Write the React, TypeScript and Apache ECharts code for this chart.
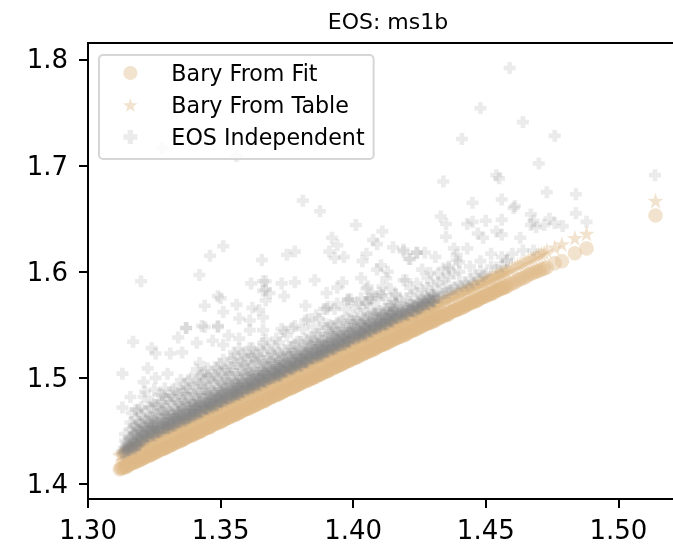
import React, { useEffect, useRef } from "react";
import * as echarts from "echarts";

const titleText = "EOS: ms1b";
const seriesNames = ["Bary From Fit", "Bary From Table", "EOS Independent"];
const xTicks = [1.3, 1.35, 1.4, 1.45, 1.5];
const yTicks = [1.4, 1.5, 1.6, 1.7, 1.8];

// Each row: x, y from the fit, y from the table
const baryRows = [
  [1.312,1.414,1.427],[1.313,1.415,1.429],[1.314,1.416,1.43],[1.315,1.418,1.432],[1.316,1.419,1.433],[1.317,1.42,1.434],[1.318,1.421,1.435],[1.319,1.422,1.436],[1.32,1.423,1.437],[1.321,1.425,1.439],
  [1.322,1.426,1.44],[1.323,1.427,1.441],[1.324,1.428,1.442],[1.325,1.429,1.443],[1.326,1.431,1.445],[1.327,1.432,1.446],[1.328,1.433,1.447],[1.329,1.434,1.448],[1.33,1.435,1.449],[1.331,1.436,1.45],
  [1.332,1.438,1.452],[1.333,1.439,1.453],[1.334,1.44,1.454],[1.335,1.441,1.455],[1.336,1.442,1.456],[1.337,1.444,1.458],[1.338,1.445,1.459],[1.339,1.446,1.46],[1.34,1.447,1.461],[1.341,1.448,1.462],
  [1.342,1.449,1.463],[1.343,1.451,1.465],[1.344,1.452,1.466],[1.345,1.453,1.467],[1.346,1.454,1.468],[1.347,1.456,1.47],[1.348,1.457,1.471],[1.349,1.458,1.472],[1.35,1.459,1.473],[1.351,1.46,1.474],
  [1.352,1.462,1.476],[1.353,1.463,1.477],[1.354,1.464,1.478],[1.355,1.465,1.479],[1.356,1.466,1.48],[1.357,1.467,1.481],[1.358,1.469,1.483],[1.359,1.47,1.484],[1.36,1.471,1.485],[1.361,1.472,1.486],
  [1.362,1.473,1.487],[1.363,1.474,1.488],[1.364,1.476,1.49],[1.365,1.477,1.491],[1.366,1.478,1.492],[1.367,1.479,1.493],[1.368,1.481,1.495],[1.369,1.482,1.496],[1.37,1.483,1.497],[1.371,1.484,1.498],
  [1.372,1.485,1.499],[1.373,1.486,1.5],[1.374,1.488,1.502],[1.375,1.489,1.503],[1.376,1.49,1.504],[1.377,1.491,1.505],[1.378,1.492,1.506],[1.379,1.493,1.507],[1.38,1.495,1.509],[1.381,1.496,1.51],
  [1.382,1.497,1.511],[1.383,1.498,1.512],[1.384,1.499,1.513],[1.385,1.5,1.514],[1.386,1.501,1.515],[1.387,1.503,1.517],[1.388,1.504,1.518],[1.389,1.505,1.519],[1.39,1.506,1.52],[1.391,1.507,1.521],
  [1.392,1.509,1.523],[1.393,1.51,1.524],[1.394,1.511,1.525],[1.395,1.512,1.526],[1.396,1.513,1.527],[1.397,1.515,1.529],[1.398,1.516,1.53],[1.399,1.517,1.531],[1.4,1.518,1.532],[1.401,1.519,1.533],
  [1.402,1.52,1.534],[1.403,1.522,1.536],[1.404,1.523,1.537],[1.405,1.524,1.538],[1.406,1.525,1.539],[1.407,1.526,1.54],[1.408,1.527,1.541],[1.409,1.529,1.543],[1.41,1.53,1.544],[1.411,1.531,1.545],
  [1.412,1.532,1.546],[1.413,1.533,1.547],[1.414,1.535,1.549],[1.415,1.536,1.55],[1.416,1.537,1.551],[1.417,1.538,1.552],[1.418,1.539,1.553],[1.419,1.54,1.554],[1.42,1.541,1.555],[1.421,1.543,1.557],
  [1.422,1.544,1.558],[1.423,1.545,1.559],[1.424,1.546,1.56],[1.425,1.548,1.562],[1.426,1.549,1.563],[1.427,1.55,1.564],[1.428,1.551,1.565],[1.429,1.552,1.566],[1.43,1.553,1.567],[1.431,1.554,1.568],
  [1.432,1.556,1.57],[1.433,1.557,1.571],[1.434,1.558,1.572],[1.435,1.559,1.573],[1.436,1.56,1.574],[1.437,1.562,1.576],[1.438,1.563,1.577],[1.439,1.564,1.578],[1.44,1.565,1.579],[1.441,1.566,1.58],
  [1.442,1.567,1.581],[1.443,1.569,1.583],[1.444,1.57,1.584],[1.445,1.571,1.585],[1.446,1.572,1.586],[1.447,1.573,1.587],[1.448,1.575,1.589],[1.449,1.576,1.59],[1.45,1.577,1.591],[1.451,1.578,1.592],
  [1.452,1.579,1.593],[1.453,1.58,1.594],[1.454,1.582,1.596],[1.455,1.583,1.597],[1.456,1.584,1.598],[1.457,1.585,1.599],[1.458,1.586,1.6],[1.459,1.588,1.602],[1.461,1.59,1.604],[1.463,1.593,1.607],
  [1.465,1.595,1.609],[1.467,1.598,1.612],[1.469,1.6,1.615],[1.471,1.602,1.617],[1.473,1.604,1.62],[1.476,1.608,1.623],[1.4787,1.61,1.626],[1.4836,1.6175,1.632],[1.488,1.622,1.636],[1.514,1.653,1.667],
];

// Second pass along the same band, read between the rows above
const baryFillRows = [
  [1.3125,1.415,1.428],[1.3135,1.416,1.43],[1.3145,1.416,1.431],[1.3155,1.418,1.432],[1.3165,1.42,1.434],[1.3175,1.42,1.434],[1.3185,1.422,1.436],[1.3195,1.423,1.437],[1.3205,1.424,1.438],[1.3215,1.425,1.439],
  [1.3225,1.427,1.441],[1.3235,1.427,1.442],[1.3245,1.429,1.443],[1.3255,1.43,1.444],[1.3265,1.431,1.445],[1.3275,1.433,1.447],[1.3285,1.433,1.448],[1.3295,1.435,1.449],[1.3305,1.436,1.45],[1.3315,1.437,1.451],
  [1.3325,1.438,1.452],[1.3335,1.44,1.454],[1.3345,1.44,1.455],[1.3355,1.442,1.456],[1.3365,1.443,1.457],[1.3375,1.444,1.458],[1.3385,1.446,1.46],[1.3395,1.446,1.461],[1.3405,1.448,1.462],[1.3415,1.449,1.463],
  [1.3425,1.45,1.464],[1.3435,1.451,1.465],[1.3445,1.453,1.467],[1.3455,1.453,1.468],[1.3465,1.455,1.469],[1.3475,1.456,1.47],[1.3485,1.457,1.471],[1.3495,1.459,1.473],[1.3505,1.459,1.474],[1.3515,1.461,1.475],
  [1.3525,1.462,1.476],[1.3535,1.463,1.477],[1.3545,1.465,1.479],[1.3555,1.465,1.48],[1.3565,1.467,1.481],[1.3575,1.468,1.482],[1.3585,1.469,1.483],[1.3595,1.471,1.485],[1.3605,1.471,1.486],[1.3615,1.473,1.487],
  [1.3625,1.474,1.488],[1.3635,1.475,1.489],[1.3645,1.476,1.49],[1.3655,1.478,1.492],[1.3665,1.478,1.493],[1.3675,1.48,1.494],[1.3685,1.481,1.495],[1.3695,1.482,1.496],[1.3705,1.484,1.498],[1.3715,1.484,1.499],
  [1.3725,1.486,1.5],[1.3735,1.487,1.501],[1.3745,1.488,1.502],[1.3755,1.49,1.504],[1.3765,1.49,1.505],[1.3775,1.492,1.506],[1.3785,1.493,1.507],[1.3795,1.494,1.508],[1.3805,1.495,1.51],[1.3815,1.497,1.511],
  [1.3825,1.497,1.512],[1.3835,1.499,1.513],[1.3845,1.5,1.514],[1.3855,1.501,1.515],[1.3865,1.503,1.517],[1.3875,1.503,1.518],[1.3885,1.505,1.519],[1.3895,1.506,1.52],[1.3905,1.507,1.521],[1.3915,1.509,1.523],
  [1.3925,1.509,1.524],[1.3935,1.511,1.525],[1.3945,1.512,1.526],[1.3955,1.513,1.527],[1.3965,1.514,1.528],[1.3975,1.516,1.53],[1.3985,1.516,1.531],[1.3995,1.518,1.532],[1.4005,1.519,1.533],[1.4015,1.52,1.534],
  [1.4025,1.522,1.536],[1.4035,1.522,1.537],[1.4045,1.524,1.538],[1.4055,1.525,1.539],[1.4065,1.526,1.54],[1.4075,1.528,1.542],[1.4085,1.528,1.543],[1.4095,1.53,1.544],[1.4105,1.531,1.545],[1.4115,1.532,1.546],
  [1.4125,1.533,1.547],[1.4135,1.535,1.549],[1.4145,1.535,1.55],[1.4155,1.537,1.551],[1.4165,1.538,1.552],[1.4175,1.539,1.553],[1.4185,1.541,1.555],[1.4195,1.541,1.556],[1.4205,1.543,1.557],[1.4215,1.544,1.558],
  [1.4225,1.545,1.559],[1.4235,1.546,1.56],[1.4245,1.548,1.562],[1.4255,1.548,1.563],[1.4265,1.55,1.564],[1.4275,1.551,1.565],[1.4285,1.552,1.566],[1.4295,1.554,1.568],[1.4305,1.554,1.569],[1.4315,1.556,1.57],
  [1.4325,1.557,1.571],[1.4335,1.558,1.572],[1.4345,1.56,1.574],[1.4355,1.56,1.575],[1.4365,1.562,1.576],[1.4375,1.563,1.577],[1.4385,1.564,1.578],[1.4395,1.565,1.58],[1.4405,1.567,1.581],[1.4415,1.567,1.582],
  [1.4425,1.569,1.583],[1.4435,1.57,1.584],[1.4445,1.571,1.585],[1.4455,1.573,1.587],[1.4465,1.573,1.588],[1.4475,1.575,1.589],[1.4485,1.576,1.59],[1.4495,1.577,1.591],[1.4505,1.579,1.593],[1.4515,1.579,1.594],
  [1.4525,1.581,1.595],[1.4535,1.582,1.596],[1.4545,1.583,1.597],[1.4555,1.585,1.599],[1.4565,1.585,1.6],[1.4575,1.587,1.601],[1.46,1.589,1.603],[1.462,1.592,1.606],[1.464,1.594,1.608],[1.466,1.597,1.611],
  [1.468,1.599,1.613],[1.47,1.601,1.616],[1.472,1.603,1.618],
];

// Markers read inside the band, where fit and table overlap
const baryMiddleRows = [
  [1.314,1.42,1.426],[1.316,1.423,1.429],[1.318,1.425,1.431],[1.32,1.428,1.433],[1.322,1.43,1.436],[1.324,1.432,1.439],[1.326,1.434,1.441],[1.328,1.437,1.443],[1.33,1.439,1.446],[1.332,1.442,1.447],
  [1.334,1.444,1.45],[1.336,1.446,1.453],[1.338,1.449,1.455],[1.34,1.451,1.457],[1.342,1.453,1.46],[1.344,1.456,1.462],[1.346,1.458,1.464],[1.348,1.46,1.467],[1.35,1.463,1.469],[1.352,1.465,1.471],
  [1.354,1.468,1.474],[1.356,1.47,1.476],[1.358,1.472,1.478],[1.36,1.475,1.481],[1.362,1.477,1.483],[1.364,1.479,1.486],[1.366,1.482,1.488],[1.368,1.484,1.49],[1.37,1.487,1.492],[1.372,1.489,1.495],
  [1.374,1.491,1.497],[1.376,1.494,1.5],[1.378,1.496,1.502],[1.38,1.498,1.504],[1.382,1.501,1.507],[1.384,1.503,1.509],[1.386,1.505,1.511],[1.388,1.508,1.514],[1.39,1.51,1.516],[1.392,1.512,1.518],
  [1.394,1.515,1.521],[1.396,1.517,1.523],[1.398,1.519,1.526],[1.4,1.522,1.528],[1.402,1.524,1.53],[1.404,1.527,1.533],[1.406,1.529,1.535],[1.408,1.531,1.537],[1.41,1.534,1.54],[1.412,1.536,1.542],
  [1.414,1.538,1.544],[1.416,1.541,1.547],[1.418,1.543,1.549],[1.42,1.545,1.551],[1.422,1.548,1.554],[1.424,1.55,1.556],[1.426,1.552,1.558],[1.428,1.555,1.561],[1.43,1.557,1.563],[1.432,1.56,1.566],
];

// Each row: x, then the y of every marker read in that column
const indepRidgeRows = [
  [1.313,1.428,1.431],[1.314,1.43,1.434],[1.315,1.431,1.436,1.433],[1.316,1.432,1.438,1.435],[1.317,1.434,1.437,1.442],[1.318,1.435,1.44,1.437],[1.319,1.436,1.441,1.446],[1.32,1.44,1.444],
  [1.321,1.443,1.448],[1.322,1.445,1.442],[1.323,1.444,1.45],[1.324,1.447,1.452],[1.325,1.449,1.446],[1.326,1.448,1.454],[1.327,1.451,1.449],[1.328,1.45,1.456],
  [1.329,1.453,1.458],[1.33,1.454,1.452,1.46],[1.331,1.456,1.453],[1.332,1.455,1.461],[1.333,1.458,1.456,1.463],[1.334,1.457,1.462],[1.335,1.46,1.465],[1.336,1.461,1.459,1.467],
  [1.337,1.463,1.46],[1.338,1.462,1.468],[1.339,1.465,1.47,1.463],[1.34,1.464,1.469],[1.341,1.467,1.472],[1.342,1.469,1.466,1.474],[1.343,1.468,1.473],[1.344,1.471,1.476],
  [1.345,1.47,1.475,1.472],[1.346,1.473,1.478],[1.347,1.475,1.472,1.481],[1.348,1.474,1.479],[1.349,1.477,1.483],[1.35,1.476,1.481,1.478],[1.351,1.479,1.485],[1.352,1.481,1.478,1.487],
  [1.353,1.48,1.484],[1.354,1.483,1.489],[1.355,1.482,1.487,1.485],[1.356,1.485,1.491],[1.357,1.487,1.484,1.493],[1.358,1.486,1.49],[1.359,1.489,1.495],[1.36,1.488,1.493,1.491],
  [1.361,1.491,1.497],[1.362,1.493,1.49,1.499],[1.363,1.492,1.496],[1.364,1.495,1.501],[1.365,1.494,1.499,1.497],[1.366,1.497,1.503],[1.367,1.499,1.496,1.505],[1.368,1.498,1.502],
  [1.369,1.501,1.507],[1.37,1.5,1.505,1.503],[1.371,1.503,1.509],[1.372,1.505,1.502,1.511],[1.373,1.504,1.508],[1.374,1.507,1.513],[1.375,1.506,1.511,1.509],[1.376,1.509,1.515],
  [1.377,1.511,1.508,1.517],[1.378,1.51,1.514],[1.379,1.513,1.519],[1.38,1.512,1.517,1.515],[1.381,1.515,1.521],[1.382,1.517,1.514,1.523],[1.383,1.516,1.52],[1.384,1.519,1.525],
  [1.385,1.518,1.523,1.521],[1.386,1.521,1.527],[1.387,1.523,1.52,1.529],[1.388,1.522,1.526],[1.389,1.525,1.531],[1.39,1.524,1.529,1.527],[1.391,1.527,1.533],[1.392,1.529,1.526,1.535],
  [1.393,1.528,1.532],[1.394,1.531,1.537],[1.395,1.53,1.535],[1.396,1.533,1.539],[1.397,1.535,1.532],[1.398,1.534,1.538],[1.399,1.537,1.543],[1.4,1.536,1.541],
  [1.401,1.539,1.545],[1.402,1.541,1.538],[1.403,1.54,1.544],[1.404,1.543,1.549],[1.405,1.542,1.547],[1.406,1.545,1.551],[1.407,1.547,1.544],[1.408,1.546,1.55],
  [1.409,1.549,1.555],[1.41,1.548,1.553],[1.411,1.551,1.557],[1.412,1.553,1.55],[1.413,1.552,1.556],[1.414,1.555,1.561],[1.415,1.554,1.559],[1.416,1.557,1.563],
  [1.417,1.559],[1.418,1.558,1.562],[1.419,1.561,1.567],[1.42,1.56],[1.421,1.563,1.569],[1.422,1.565],[1.423,1.564,1.568],[1.424,1.567],
  [1.425,1.566,1.572],[1.426,1.569],[1.427,1.571,1.577],[1.428,1.57],[1.429,1.573],[1.43,1.572,1.578],[1.431,1.575],[1.432,1.577,1.582],
  [1.433,1.576],[1.434,1.579],[1.435,1.581,1.586],[1.436,1.58],[1.437,1.583],[1.438,1.585],[1.439,1.584],[1.44,1.589],
  [1.441,1.586],[1.442,1.59],[1.443,1.587],[1.444,1.593],[1.445,1.589],[1.446,1.597],[1.447,1.593],[1.448,1.6],[1.449,1.596],[1.45,1.598],[1.452,1.605],[1.454,1.604],[1.456,1.605],[1.458,1.61],
];

// Second pass over the dense ridge, read between the columns above
const indepRidgeFillRows = [
  [1.3135,1.43,1.434],[1.3145,1.432,1.436,1.439],[1.3155,1.432,1.435,1.442],[1.3165,1.435,1.439,1.444],[1.3175,1.433,1.438,1.443,1.447],[1.3185,1.437,1.438,1.443,1.451],[1.3195,1.437,1.442,1.449,1.456],[1.3205,1.442,1.446,1.449],
  [1.3215,1.445,1.449,1.455],[1.3225,1.445,1.452,1.454],[1.3235,1.448,1.453,1.459],[1.3245,1.446,1.453,1.455],[1.3255,1.45,1.455,1.461],[1.3265,1.449,1.454,1.458],[1.3275,1.453,1.461],[1.3285,1.453,1.46,1.467],
  [1.3295,1.453,1.457,1.46],[1.3305,1.456,1.46,1.466],[1.3315,1.456,1.459,1.465],[1.3325,1.455,1.462,1.464],[1.3335,1.459,1.464,1.47],[1.3345,1.459,1.464,1.468],[1.3355,1.463,1.471],[1.3365,1.462,1.469,1.476],
  [1.3375,1.462,1.466,1.469],[1.3385,1.465,1.469,1.475],[1.3395,1.466,1.469,1.475],[1.3405,1.465,1.472,1.474],[1.3415,1.469,1.474,1.48],[1.3425,1.468,1.473,1.477],[1.3435,1.472,1.48],[1.3445,1.471,1.478,1.485],
  [1.3455,1.472,1.476,1.479],[1.3465,1.475,1.479,1.485],[1.3475,1.475,1.478,1.484],[1.3485,1.474,1.481,1.483],[1.3495,1.478,1.483,1.489],[1.3505,1.478,1.483,1.487],[1.3515,1.482,1.49],[1.3525,1.481,1.488,1.495],
  [1.3535,1.481,1.485,1.488],[1.3545,1.484,1.488,1.494],[1.3555,1.484,1.487,1.493],[1.3565,1.484,1.491,1.493],[1.3575,1.488,1.493,1.499],[1.3585,1.487,1.492,1.496],[1.3595,1.491,1.499],[1.3605,1.49,1.497,1.504],
  [1.3615,1.491,1.495,1.498],[1.3625,1.494,1.498,1.504],[1.3635,1.494,1.497,1.503],[1.3645,1.493,1.5,1.502],[1.3655,1.497,1.502,1.508],[1.3665,1.496,1.501,1.505],[1.3675,1.501,1.509],[1.3685,1.5,1.507,1.514],
  [1.3695,1.5,1.504,1.507],[1.3705,1.503,1.507,1.513],[1.3715,1.502,1.505,1.511],[1.3725,1.502,1.509,1.511],[1.3735,1.507,1.512,1.518],[1.3745,1.506,1.511,1.515],[1.3755,1.51,1.518],[1.3765,1.509,1.516,1.523],
  [1.3775,1.509,1.513,1.516],[1.3785,1.513,1.517,1.523],[1.3795,1.512,1.515,1.521],[1.3805,1.511,1.518,1.52],[1.3815,1.515,1.52,1.526],[1.3825,1.515,1.52,1.524],[1.3835,1.52,1.528],[1.3845,1.519,1.526,1.533],
  [1.3855,1.519,1.523,1.526],[1.3865,1.522,1.526,1.532],[1.3875,1.521,1.524,1.53],[1.3885,1.521,1.528,1.53],[1.3895,1.525,1.53,1.536],[1.3905,1.525,1.53,1.534],[1.3915,1.529,1.537],[1.3925,1.528,1.535,1.542],
  [1.3935,1.528,1.532,1.535],[1.3945,1.532,1.536,1.542],[1.3955,1.531,1.534,1.54],[1.3965,1.531,1.538,1.54],[1.3975,1.535,1.54,1.546],[1.3985,1.534,1.539,1.543],[1.3995,1.538,1.546],[1.4005,1.539,1.546,1.553],
  [1.4015,1.538,1.542,1.545],[1.4025,1.541,1.545,1.551],[1.4035,1.541,1.544,1.55],[1.4045,1.54,1.547,1.549],[1.4055,1.545,1.55,1.556],[1.4065,1.544,1.549,1.553],[1.4075,1.548,1.556],[1.4085,1.547,1.554,1.561],
  [1.4095,1.547,1.551,1.554],[1.4105,1.55,1.554,1.56],[1.4115,1.551,1.554,1.56],[1.4125,1.55,1.557,1.559],[1.4135,1.554,1.559,1.565],[1.4145,1.553,1.558,1.562],[1.4155,1.557,1.565],[1.4165,1.557,1.564,1.571],
  [1.4175,1.557,1.561],[1.4185,1.56,1.564],[1.4195,1.56,1.563],[1.4205,1.559,1.566],[1.4215,1.564,1.569],[1.4225,1.563,1.568],[1.4235,1.562,1.567],[1.4245,1.565,1.572],
  [1.4255,1.566,1.57],[1.4265,1.569,1.573],[1.4275,1.57,1.573],[1.4285,1.569,1.576],[1.4295,1.573,1.578],[1.4305,1.572,1.577],
];

// Darker clumps on the lower edge of the ridge
const indepClumpRows = [
  [1.3203,1.442,1.446],[1.3223,1.445,1.449],[1.3243,1.448,1.45,1.453],[1.3263,1.45,1.454],[1.3283,1.452,1.456,1.457],[1.3303,1.454,1.457],[1.3323,1.458,1.462],[1.3343,1.459,1.462,1.464],
  [1.3363,1.461,1.466],[1.3383,1.464,1.468],[1.3403,1.466,1.468,1.471],[1.3423,1.468,1.472],[1.3443,1.471,1.474,1.476],[1.3463,1.473,1.476],[1.3483,1.475,1.48],[1.3503,1.478,1.48,1.483],
  [1.3523,1.48,1.485],[1.3543,1.482,1.486],[1.3563,1.485,1.487,1.49],[1.3583,1.487,1.491],[1.3603,1.49,1.493,1.495],[1.3623,1.492,1.495],[1.3643,1.494,1.499],[1.3663,1.497,1.499,1.502],
  [1.3683,1.499,1.504],[1.3703,1.501,1.505],[1.3723,1.504,1.506,1.509],[1.3743,1.506,1.51],[1.3763,1.508,1.511,1.513],[1.3783,1.511,1.514],[1.3803,1.513,1.518],[1.3823,1.516,1.518,1.521],
  [1.3843,1.518,1.523],[1.3863,1.52,1.524],[1.3883,1.523,1.525,1.528],[1.3903,1.525,1.529],[1.3923,1.527,1.53,1.532],[1.3943,1.53,1.533],[1.3963,1.532,1.537],[1.3983,1.534,1.536,1.539],
  [1.4003,1.537,1.542],[1.4023,1.539,1.543],[1.4043,1.541,1.543,1.546],[1.4063,1.544,1.548],[1.4083,1.546,1.549,1.551],[1.4103,1.549,1.552],[1.4123,1.551,1.556],[1.4143,1.553,1.555,1.558],
  [1.4163,1.556,1.561],[1.4183,1.558,1.562],[1.4203,1.56,1.565],[1.4223,1.563,1.567],[1.4243,1.565,1.57],[1.4263,1.567,1.572],[1.4283,1.57,1.575],[1.4303,1.572,1.577],
];

const indepCloudRows = [
  [1.314,1.441,1.447],[1.316,1.444,1.452,1.458],[1.318,1.447,1.455,1.462],[1.32,1.45,1.457,1.465,1.472],[1.322,1.452,1.46,1.468],[1.324,1.456,1.463,1.472,1.478],[1.326,1.458,1.466,1.474],[1.328,1.461,1.469,1.477,1.484],
  [1.33,1.464,1.471,1.48],[1.332,1.466,1.474,1.483,1.489],[1.334,1.468,1.476,1.485],[1.336,1.471,1.479,1.487,1.494],[1.338,1.473,1.481,1.49,1.498],[1.34,1.475,1.484,1.492],[1.342,1.478,1.486,1.495,1.502],[1.344,1.48,1.489,1.498,1.506],
  [1.346,1.483,1.491,1.5],[1.348,1.486,1.494,1.503,1.51],[1.35,1.488,1.496,1.505,1.513],[1.352,1.49,1.499,1.508],[1.354,1.493,1.501,1.51,1.518],[1.356,1.495,1.504,1.513],[1.358,1.498,1.507,1.515,1.523],[1.36,1.5,1.508,1.517],
  [1.362,1.503,1.512,1.52,1.528],[1.364,1.505,1.514,1.522],[1.366,1.508,1.516,1.525,1.533],[1.368,1.51,1.519,1.528],[1.37,1.513,1.521,1.53],[1.372,1.516,1.524,1.533],[1.374,1.518,1.526,1.544],[1.376,1.52,1.529],
  [1.378,1.523,1.532,1.549],[1.38,1.526,1.534],[1.382,1.528,1.537,1.554],[1.384,1.53,1.539],[1.386,1.533,1.541,1.559],[1.388,1.535,1.544],[1.39,1.538,1.547,1.565],[1.392,1.54,1.549],
  [1.394,1.543,1.552,1.57],[1.396,1.545,1.554],[1.398,1.548,1.557,1.574],[1.4,1.55,1.559],[1.402,1.553,1.57],[1.404,1.556,1.564],[1.406,1.558,1.575],[1.408,1.56,1.569],
  [1.41,1.563,1.58],[1.412,1.565,1.574],[1.414,1.568,1.584],[1.416,1.57,1.579],[1.418,1.573],[1.42,1.575,1.592],[1.422,1.578],[1.424,1.58,1.589],
  [1.426,1.583],[1.428,1.585,1.594],[1.43,1.588],[1.432,1.59,1.598],[1.434,1.593],[1.436,1.595,1.603],[1.438,1.598],[1.44,1.6,1.609],[1.444,1.605],[1.448,1.61],
];

const indepCloudFillRows = [
  [1.317,1.449,1.454],[1.319,1.451,1.459,1.47],[1.321,1.454,1.462,1.482],[1.323,1.458,1.463,1.473],[1.325,1.459,1.465,1.475,1.489],[1.327,1.467,1.475,1.484],[1.329,1.467,1.472,1.483,1.49],[1.331,1.464,1.477,1.483],
  [1.333,1.471,1.479,1.49],[1.335,1.47,1.478,1.485,1.498],[1.337,1.477,1.485,1.491],[1.339,1.477,1.485,1.5],[1.341,1.478,1.484,1.494,1.508],[1.343,1.486,1.494,1.503],[1.345,1.486,1.491,1.502,1.509],[1.347,1.483,1.496,1.502],
  [1.349,1.49,1.498,1.509],[1.351,1.489,1.497,1.504,1.517],[1.353,1.496,1.504,1.51],[1.355,1.496,1.504,1.519],[1.357,1.497,1.503,1.513,1.527],[1.359,1.504,1.512,1.521],[1.361,1.505,1.51,1.521,1.528],[1.363,1.502,1.515,1.521],
  [1.365,1.508,1.516,1.527],[1.367,1.508,1.516,1.536],[1.369,1.515,1.523],[1.371,1.514,1.522,1.537],[1.373,1.516,1.522,1.546],[1.375,1.523,1.54],[1.377,1.524,1.529,1.547],[1.379,1.521,1.534],
  [1.381,1.527,1.546],[1.383,1.527,1.535,1.555],[1.385,1.534,1.548],[1.387,1.533,1.541,1.556],[1.389,1.535,1.551,1.565],[1.391,1.542,1.55],[1.393,1.542,1.547,1.565],[1.395,1.54,1.553],
  [1.397,1.546,1.565],[1.399,1.546,1.554,1.574],[1.401,1.553,1.567],[1.403,1.552,1.56,1.575],[1.405,1.554,1.57,1.584],[1.407,1.561,1.578],[1.409,1.561,1.577],[1.411,1.559,1.578],[1.413,1.565],[1.415,1.564,1.572],
];

const indepOutliers = [
  [1.459,1.792],[1.448,1.754],[1.464,1.741],[1.441,1.725],[1.476,1.728],[1.47,1.702],[1.454,1.691],[1.455,1.688],[1.434,1.685],[1.473,1.675],[1.484,1.673],[1.456,1.668],[1.445,1.665],[1.461,1.662],[1.4605,1.66],
  [1.433,1.652],[1.484,1.655],[1.467,1.654],[1.468,1.648],[1.456,1.649],[1.45,1.648],[1.435,1.645],[1.443,1.645],[1.445,1.647],[1.474,1.65],[1.476,1.646],[1.472,1.644],[1.488,1.647],[1.479,1.643],[1.467,1.644],[1.469,1.642],
  [1.454,1.638],[1.447,1.636],[1.449,1.632],[1.435,1.633],[1.463,1.632],[1.456,1.635],[1.443,1.622],[1.438,1.622],[1.439,1.616],[1.424,1.618],[1.419,1.619],[1.421,1.612],[1.431,1.614],[1.439,1.611],[1.434,1.603],[1.436,1.605],[1.426,1.602],[1.429,1.599],
  [1.456,1.614],[1.458,1.611],[1.46,1.617],[1.464,1.62],[1.468,1.62],[1.452,1.617],[1.5138,1.691],[1.328,1.7165],[1.356,1.709],
  [1.351,1.624],[1.346,1.615],[1.3656,1.611],[1.342,1.597],[1.32,1.591],[1.3615,1.589],[1.366,1.591],[1.366,1.582],[1.35,1.575],[1.349,1.577],[1.356,1.569],[1.344,1.568],[1.351,1.562],[1.367,1.573],[1.362,1.566],[1.3645,1.564],[1.357,1.556],[1.361,1.554],[1.366,1.557],[1.343,1.549],[1.349,1.549],[1.337,1.547],
  [1.381,1.667],[1.3875,1.657],[1.401,1.644],[1.411,1.638],[1.392,1.632],[1.394,1.625],[1.4075,1.63],[1.409,1.626],[1.415,1.623],[1.419,1.621],[1.424,1.618],[1.427,1.618],[1.4215,1.612],[1.378,1.619],[1.375,1.616],[1.391,1.619],[1.393,1.613],[1.3965,1.614],[1.405,1.617],[1.4035,1.61],[1.4105,1.606],[1.409,1.602],[1.413,1.6],[1.4125,1.594],[1.403,1.594],[1.396,1.59],[1.3855,1.592],[1.378,1.59],[1.373,1.589],[1.367,1.591],[1.4055,1.586],[1.394,1.585],[1.39,1.58],[1.419,1.592],[1.411,1.586],[1.4215,1.585],[1.3685,1.58],[1.374,1.577],[1.367,1.583],[1.382,1.568],[1.3905,1.567],[1.398,1.573],[1.416,1.578],[1.405,1.571],[1.407,1.575],
  [1.317,1.534],[1.313,1.504],[1.3225,1.509],[1.324,1.528],[1.334,1.538],[1.337,1.547],[1.344,1.548],[1.349,1.548],[1.341,1.533],[1.347,1.535],[1.3355,1.524],[1.353,1.54],[1.351,1.531],[1.331,1.523],[1.3255,1.523],[1.321,1.496],[1.316,1.482],[1.313,1.472],[1.3165,1.467],[1.3215,1.487],[1.318,1.47],[1.342,1.514],[1.355,1.524],[1.361,1.545],[1.366,1.545],[1.357,1.537],[1.33,1.504],[1.3255,1.5],
];

const starPath = "path://M0 -1L0.2245 -0.309L0.951 -0.309L0.363 0.118L0.588 0.809L0 0.382L-0.588 0.809L-0.363 0.118L-0.951 -0.309L-0.2245 -0.309Z";
const plusPath = "path://M-1.15 -3H1.15V-1.15H3V1.15H1.15V3H-1.15V1.15H-3V-1.15H-1.15Z";
const tan = "rgba(222,184,135,0.5)";
const grey = "rgba(128,128,128,0.2)";
const font = "DejaVu Sans";

const rowsToPoints = (rows: number[][]) => rows.flatMap((r) => r.slice(1).map((y) => [r[0], y]));
const allBaryRows = [...baryRows, ...baryFillRows, ...baryMiddleRows];
const fitPoints = allBaryRows.map((r) => [r[0], r[1]]);
const tablePoints = allBaryRows.map((r) => [r[0], r[2]]);
const indepPoints = [
  ...rowsToPoints(indepRidgeRows),
  ...rowsToPoints(indepRidgeFillRows),
  ...rowsToPoints(indepClumpRows),
  ...rowsToPoints(indepCloudRows),
  ...rowsToPoints(indepCloudFillRows),
  ...indepOutliers,
];

export default function App() {
  const ref = useRef<HTMLDivElement>(null);
  useEffect(() => {
    const chart = echarts.init(ref.current!, undefined, { renderer: "svg" });
    chart.setOption({
      animation: false,
      title: {
        text: titleText,
        left: 383,
        textAlign: "center",
        top: 5,
        textStyle: { fontFamily: font, fontSize: 22, fontWeight: "normal", color: "#000" },
      },
      grid: { left: 88, top: 43, width: 598, height: 456, outerBoundsMode: "none", show: true, borderColor: "#000", borderWidth: 2, backgroundColor: "transparent" },
      xAxis: {
        type: "value",
        min: 1.3,
        max: 1.5255,
        splitLine: { show: false },
        axisLine: { lineStyle: { color: "#000", width: 2 } },
        axisTick: { length: 9, lineStyle: { color: "#000", width: 2 }, customValues: xTicks },
        axisLabel: { customValues: xTicks, formatter: (v: number) => v.toFixed(2), fontFamily: font, fontSize: 26, color: "#000", margin: 18 },
      },
      yAxis: {
        type: "value",
        min: 1.3859,
        max: 1.8155,
        splitLine: { show: false },
        axisLine: { lineStyle: { color: "#000", width: 2 } },
        axisTick: { length: 9, lineStyle: { color: "#000", width: 2 }, customValues: yTicks },
        axisLabel: { customValues: yTicks, formatter: (v: number) => v.toFixed(1), fontFamily: font, fontSize: 26, color: "#000", margin: 20 },
      },
      legend: {
        left: 99,
        top: 55,
        orient: "vertical",
        padding: [7, 9, 11, 24],
        itemWidth: 36,
        itemHeight: 14,
        itemGap: 10,
        backgroundColor: "rgba(255,255,255,0.8)",
        borderColor: "rgba(204,204,204,0.8)",
        borderWidth: 2,
        borderRadius: 4,
        textStyle: { fontFamily: font, fontSize: 22.2, color: "#000", padding: [0, 0, 0, 18] },
        data: [
          { name: seriesNames[0], icon: "circle" },
          { name: seriesNames[1], icon: starPath },
          { name: seriesNames[2], icon: plusPath },
        ],
      },
      series: [
        { name: seriesNames[0], type: "scatter", data: fitPoints, symbol: "circle", symbolSize: 14.5, itemStyle: { color: tan } },
        { name: seriesNames[1], type: "scatter", data: tablePoints, symbol: starPath, symbolSize: 16, itemStyle: { color: tan } },
        { name: seriesNames[2], type: "scatter", data: indepPoints, symbol: plusPath, symbolSize: 12, itemStyle: { color: grey } },
      ],
    });
    return () => chart.dispose();
  }, []);
  return <div ref={ref} style={{ position: "fixed", left: 0, top: 0, width: 673, height: 550 }} />;
}
